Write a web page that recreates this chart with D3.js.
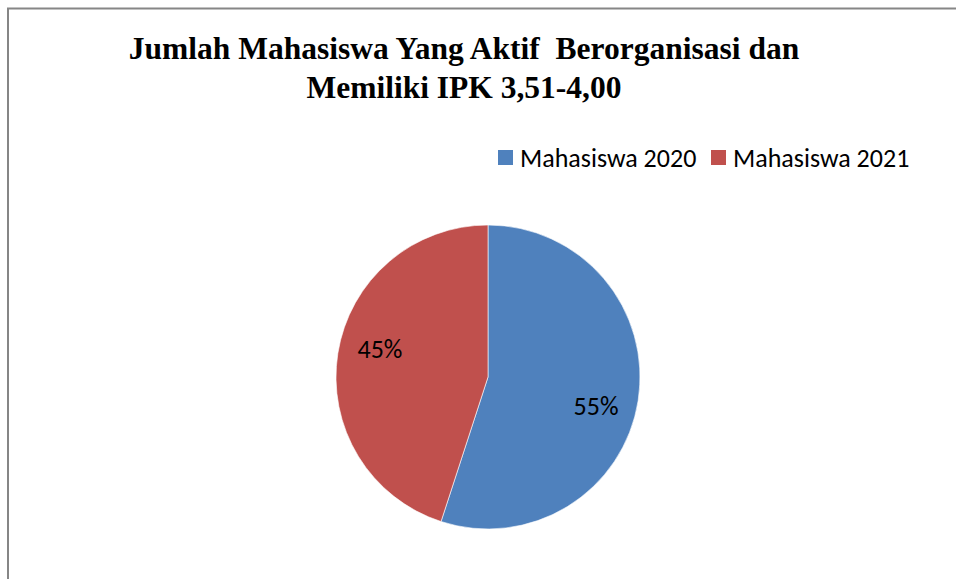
<!DOCTYPE html>
<meta charset="utf-8">
<script src="https://d3js.org/d3.v7.min.js"></script>
<style>
  body { margin: 0; background: #fff; }
</style>
<div id="base"></div>
<script>
    // chart data
    var categories = ["Mahasiswa 2020", "Mahasiswa 2021"];
    var values = [55, 45];
    var labels = ["55%", "45%"];
    var colors = ["#4f81bd", "#c0504d"];
    var titleLines = ["Jumlah Mahasiswa Yang Aktif  Berorganisasi dan", "Memiliki IPK 3,51-4,00"];

    var width = 956, height = 579;

    var svg = d3.select("#base")
        .append("svg")
        .attr("width", width)
        .attr("height", height);

    // frame (right and bottom run off the page)
    svg.append("rect")
        .attr("x", 8)
        .attr("y", 8.5)
        .attr("width", 1000)
        .attr("height", 1000)
        .style("fill", "#fff")
        .style("stroke", "#868686")
        .style("stroke-width", 2);

    // title
    svg.append("text")
        .attr("text-anchor", "middle")
        .style("white-space", "pre")
        .style("font-family", "'Liberation Serif', 'Times New Roman', serif")
        .style("font-weight", "bold")
        .style("font-size", "31.5px")
        .selectAll("tspan")
        .data(titleLines)
        .enter()
        .append("tspan")
        .attr("x", 464)
        .attr("y", function (d, i) { return 59 + i * 39; })
        .text(function (d) { return d; });

    // pie
    var cx = 488, cy = 377, r = 152;
    var pie = d3.pie().sort(null).value(function (d) { return d; });
    var arc = d3.arc().innerRadius(0).outerRadius(r);

    var g = svg.append("g")
        .attr("transform", "translate(" + cx + "," + cy + ")");

    var arcs = pie(values);

    g.selectAll("path")
        .data(arcs)
        .enter()
        .append("path")
        .attr("d", arc)
        .style("fill", function (d, i) { return colors[i]; })
        .style("stroke", "#fff")
        .style("stroke-width", 0.6);

    // data labels, placed a little past the slice middle like Excel does
    var labelR = r * 0.735, labelShift = 0.1;
    g.selectAll("text")
        .data(arcs)
        .enter()
        .append("text")
        .attr("x", function (d) { return labelR * Math.sin((d.startAngle + d.endAngle) / 2 + labelShift); })
        .attr("y", function (d) { return -labelR * Math.cos((d.startAngle + d.endAngle) / 2 + labelShift); })
        .attr("text-anchor", "middle")
        .attr("dy", "0.35em")
        .style("font-family", "Carlito, Calibri, Lato, sans-serif")
        .style("font-size", "26px")
        .style("fill", "#000")
        .text(function (d, i) { return labels[i]; });

    // legend
    var legendX = [498, 711];
    var legend = svg.append("g");
    var item = legend.selectAll("g")
        .data(categories)
        .enter()
        .append("g")
        .attr("transform", function (d, i) { return "translate(" + legendX[i] + ",150)"; });

    item.append("rect")
        .attr("width", 15)
        .attr("height", 15)
        .style("fill", function (d, i) { return colors[i]; });

    item.append("text")
        .attr("x", 22)
        .attr("y", 8)
        .attr("dy", "0.35em")
        .style("font-family", "Carlito, Calibri, Lato, sans-serif")
        .style("font-size", "26px")
        .style("fill", "#000")
        .text(function (d) { return d; });
</script>
